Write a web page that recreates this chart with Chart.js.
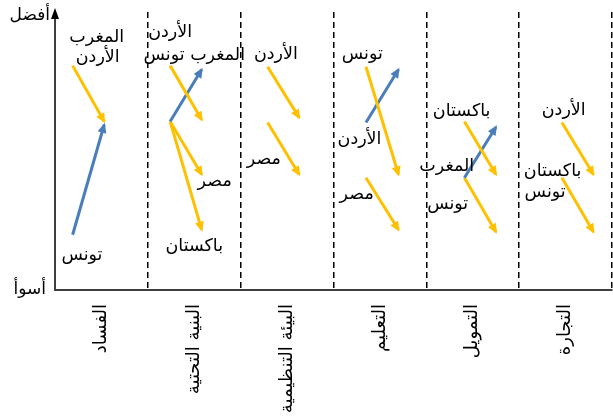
<!DOCTYPE html>
<html>
<head>
<meta charset="utf-8">
<script src="https://cdn.jsdelivr.net/npm/chart.js@4.4.0/dist/chart.umd.min.js"></script>
<style>
  html, body { margin: 0; padding: 0; background: #fff; }
  #wrap { width: 613px; height: 420px; }
</style>
</head>
<body>
<div id="wrap"><canvas id="chart" width="613" height="420"></canvas></div>
<script>
// categories along the bottom
const categories = ['الفساد', 'البنية التحتية', 'البيئة التنظيمية', 'التعليم', 'التمويل', 'التجارة'];

// each arrow: category, rank before and rank after (1 = best)
const arrowCategory = [0, 0, 1, 1, 1, 1, 2, 2, 3, 3, 3, 4, 4, 4, 5, 5];
const rankFrom = [0.98, 4.07, 0.98, 2.0, 2.0, 2.0, 1.0, 2.02, 1.0, 2.02, 3.03, 2.0, 3.03, 3.03, 2.02, 3.03];
const rankTo = [2.0, 2.06, 1.97, 1.05, 2.97, 3.98, 1.93, 2.97, 2.97, 1.05, 3.98, 2.97, 2.1, 4.02, 2.97, 4.02];

// where arrows start / end inside each category (category units)
const arrowStartX = [0.19, 1.24, 2.29, 3.35, 4.41, 5.46];
const arrowEndX = [0.53, 1.58, 2.63, 3.70, 4.75, 5.80];

// country names next to the arrows
const labelText = ['المغرب', 'الأردن', 'تونس', 'الأردن', 'المغرب تونس', 'مصر', 'باكستان', 'الأردن', 'مصر',
  'تونس', 'الأردن', 'مصر', 'باكستان', 'المغرب', 'تونس', 'الأردن', 'باكستان', 'تونس'];
const labelX = [0.45, 0.46, 0.29, 1.24, 1.50, 1.72, 1.50, 2.38, 2.25, 3.31, 3.28, 3.25, 4.38, 4.22, 4.23, 5.48, 5.36, 5.28];
const labelY = [0.47, 0.83, 4.44, 0.38, 0.80, 3.10, 4.29, 0.78, 2.70, 0.78, 2.33, 3.34, 1.82, 2.83, 3.52, 1.79, 2.92, 3.29];

const yTop = 'أفضل';
const yBottom = 'أسوأ';

const YELLOW = '#FFC000';
const BLUE = '#4A7EBB';
const FONT = "'DejaVu Sans', sans-serif";

const datasets = arrowCategory.map((c, i) => {
  const col = rankTo[i] < rankFrom[i] ? BLUE : YELLOW;
  return {
    data: [{ x: arrowStartX[c], y: rankFrom[i] }, { x: arrowEndX[c], y: rankTo[i] }],
    xAxisID: 'xd',
    borderColor: col,
    backgroundColor: col,
    borderWidth: 3,
    pointRadius: 0,
    tension: 0
  };
});

// arrow heads, country names and axis words
const decorPlugin = {
  id: 'decor',
  afterDatasetsDraw(chart) {
    const ctx = chart.ctx;
    const xs = chart.scales.xd, ys = chart.scales.y;
    chart.data.datasets.forEach((ds, i) => {
      const pts = chart.getDatasetMeta(i).data;
      const a = pts[0], b = pts[1];
      const ang = Math.atan2(b.y - a.y, b.x - a.x);
      ctx.save();
      ctx.translate(b.x, b.y);
      ctx.rotate(ang);
      ctx.fillStyle = ds.borderColor;
      ctx.beginPath();
      ctx.moveTo(2, 0);
      ctx.lineTo(-8, -4.5);
      ctx.lineTo(-8, 4.5);
      ctx.closePath();
      ctx.fill();
      ctx.restore();
    });

    ctx.save();
    ctx.fillStyle = '#000';
    ctx.font = '17.5px ' + FONT;
    ctx.textAlign = 'center';
    ctx.textBaseline = 'middle';
    labelText.forEach((t, i) => {
      ctx.fillText(t, xs.getPixelForValue(labelX[i]), ys.getPixelForValue(labelY[i]));
    });

    const area = chart.chartArea;
    ctx.textAlign = 'right';
    ctx.font = '17px ' + FONT;
    ctx.fillText(yTop, area.left - 5, area.top + 4);
    ctx.fillText(yBottom, area.left - 9, area.bottom);

    // arrow tip on the y axis
    ctx.fillStyle = '#000';
    ctx.beginPath();
    ctx.moveTo(area.left, area.top - 4);
    ctx.lineTo(area.left - 4, area.top + 7);
    ctx.lineTo(area.left + 4, area.top + 7);
    ctx.closePath();
    ctx.fill();
    ctx.restore();
  }
};

new Chart(document.getElementById('chart'), {
  type: 'line',
  data: { labels: categories, datasets: datasets },
  options: {
    responsive: false,
    animation: false,
    layout: { padding: { top: 12, right: 1, left: 0, bottom: 0 } },
    plugins: { legend: { display: false }, tooltip: { enabled: false } },
    scales: {
      x: {
        type: 'category',
        position: 'bottom',
        offset: true,
        grid: { offset: true, color: '#000', lineWidth: 1.5, drawTicks: false },
        border: { display: true, color: '#3F3F3F', width: 2, dash: [6, 4] },
        ticks: { minRotation: 90, maxRotation: 90, padding: 14, color: '#000', font: { size: 18, family: FONT } },
        afterFit: s => { s.height = 130; }
      },
      xd: {
        type: 'linear',
        display: false,
        min: 0,
        max: 6
      },
      y: {
        type: 'linear',
        reverse: true,
        min: 0,
        max: 5.08,
        grid: { display: false },
        ticks: { display: false },
        border: { display: true, color: '#3F3F3F', width: 2 },
        afterFit: s => { s.width = 55; }
      }
    }
  },
  plugins: [decorPlugin]
});
</script>
</body>
</html>
